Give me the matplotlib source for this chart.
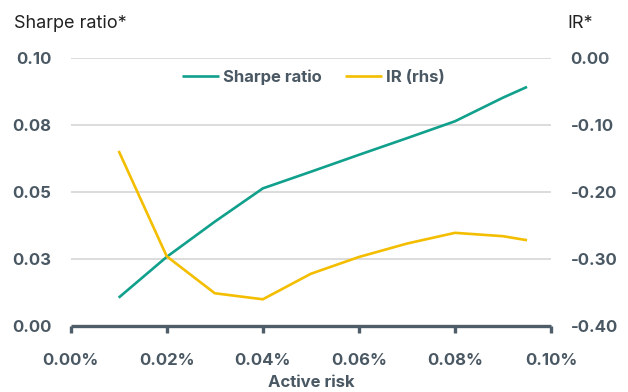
import matplotlib
matplotlib.use("Agg")
import matplotlib.pyplot as plt
from matplotlib.ticker import FuncFormatter

# Active risk (%) and the two risk-adjusted return measures
active_risk = [0.01, 0.02, 0.03, 0.04, 0.05, 0.06, 0.07, 0.08, 0.09, 0.095]
sharpe = [0.0106, 0.0258, 0.0389, 0.0513, 0.0575, 0.0638, 0.0700, 0.0763, 0.0851, 0.0891]
ir = [-0.139, -0.296, -0.351, -0.360, -0.322, -0.297, -0.277, -0.261, -0.266, -0.272]

x_ticks = [0.00, 0.02, 0.04, 0.06, 0.08, 0.10]
left_ticks = [0.0, 0.025, 0.05, 0.075, 0.10]
left_labels = ["0.00", "0.03", "0.05", "0.08", "0.10"]
right_ticks = [-0.4, -0.3, -0.2, -0.1, 0.0]
right_labels = ["-0.40", "-0.30", "-0.20", "-0.10", "0.00"]

TEAL = "#10a08c"
YELLOW = "#f4be00"
TEXT = "#4a5863"
AXIS = "#4f5d68"
GRID = "#dcdcdc"
FS = 12
WEIGHT = "bold"

plt.rcParams["font.family"] = ["Inter", "DejaVu Sans"]

fig = plt.figure(figsize=(6.28, 3.92), dpi=100)
ax = fig.add_axes([0.1125, 0.168, 0.765, 0.685])
ax2 = ax.twinx()

ax.set_xlim(0, 0.10)
ax.set_ylim(0, 0.10)
ax2.set_ylim(-0.4, 0.0)

for a in (ax, ax2):
    for s in a.spines.values():
        s.set_visible(False)

ax.spines["bottom"].set_visible(True)
ax.spines["bottom"].set_color(AXIS)
ax.spines["bottom"].set_linewidth(2.4)
ax.spines["bottom"].set_capstyle("butt")

ax.set_yticks(left_ticks)
ax.set_yticklabels(left_labels)
ax2.set_yticks(right_ticks)
ax2.set_yticklabels(right_labels)
ax.set_xticks(x_ticks)
ax.xaxis.set_major_formatter(FuncFormatter(lambda v, p: f"{v:.2f}%"))

ax.tick_params(axis="y", length=0, pad=14, labelsize=FS, labelcolor=TEXT)
ax2.tick_params(axis="y", length=0, pad=14, labelsize=FS, labelcolor=TEXT)
ax.tick_params(axis="x", direction="out", length=5, width=2.4, color=AXIS,
               pad=14.5, labelsize=FS, labelcolor=TEXT)
for lab in ax.get_xticklabels() + ax.get_yticklabels() + ax2.get_yticklabels():
    lab.set_fontweight(WEIGHT)

for t in left_ticks[1:]:
    ax.axhline(t, color=GRID, lw=1.4, zorder=0)

l1, = ax.plot(active_risk, sharpe, color=TEAL, lw=1.9, label="Sharpe ratio",
              solid_capstyle="butt")
l2, = ax2.plot(active_risk, ir, color=YELLOW, lw=1.9, label="IR (rhs)",
               solid_capstyle="butt")

ax.set_xlabel("Active risk", fontsize=FS, fontweight=WEIGHT, color=TEXT, labelpad=5)

leg = ax2.legend(handles=[l1, l2], loc="upper center", bbox_to_anchor=(0.505, 1.012),
                 ncol=2, frameon=False, handlelength=2.2, handletextpad=0.25,
                 columnspacing=1.4, prop={"weight": WEIGHT, "size": FS})
for t in leg.get_texts():
    t.set_color(TEXT)

fig.text(0.022, 0.962, "Sharpe ratio*", fontsize=13, color="#222222", va="top")
fig.text(0.903, 0.962, "IR*", fontsize=13, color="#222222", va="top")

fig.savefig("out.png", dpi=100)
